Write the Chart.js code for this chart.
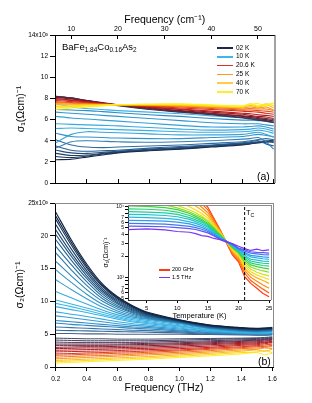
<!DOCTYPE html>
<html>
<head>
<meta charset="utf-8">
<script src="https://cdn.jsdelivr.net/npm/chart.js@4.4.0/dist/chart.umd.min.js"></script>
<style>
  body { margin: 0; background: #fff; }
  #page { position: relative; width: 312px; height: 403px; overflow: hidden; font-family: "Liberation Sans", Arial, sans-serif; color: #000; }
  canvas { position: absolute; }
  .txt { position: absolute; white-space: nowrap; line-height: 1; }
  .sub { font-size: 0.68em; position: relative; top: 0.3em; }
  .swatch { position: absolute; height: 1.5px; }
</style>
</head>
<body>
<div id="page">
  <canvas id="chartA" width="312" height="195" style="left:0;top:0;width:312px;height:195px"></canvas>
  <canvas id="chartB" width="312" height="208" style="left:0;top:195px;width:312px;height:208px"></canvas>
  <canvas id="chartC" width="182" height="124" style="left:92px;top:199px;width:182px;height:124px"></canvas>

  <div class="txt" style="left:62px;top:42px;font-size:9.5px">BaFe<span class="sub">1.84</span>Co<span class="sub">0.16</span>As<span class="sub">2</span></div>
  <div id="legendA"></div>
  <div class="txt" style="left:257px;top:171px;font-size:10.5px">(a)</div>
  <div class="txt" style="left:258px;top:356px;font-size:10.5px">(b)</div>
  <div id="legendC"></div>
  <div class="txt" style="left:246px;top:209px;font-size:7.5px">T<span class="sub">C</span></div>
</div>
<script>
// ---- data ----------------------------------------------------------
const cmPerTHz = 33.356;
const thzTicks = [0.2, 0.4, 0.6, 0.8, 1.0, 1.2, 1.4, 1.6];
const cmTicks = [10, 20, 30, 40, 50];
const sigma1Ticks = [0, 2, 4, 6, 8, 10, 12, 14];
const sigma2Ticks = [0, 5, 10, 15, 20, 25];
const tempTicks = [5, 10, 15, 20, 25];
const insetLogTicks = [500, 600, 700, 800, 900, 1000, 2000, 3000, 4000, 5000, 6000, 7000, 8000, 9000, 10000];

const legendTemps = ['02 K', '10 K', '20.6 K', '25 K', '40 K', '70 K'];
const legendFreqs = ['200 GHz', '1.5 THz'];
const tcKelvin = 21;

// (a) sigma1 vs frequency (THz), in 10^3 (Ohm cm)^-1
const freqA = [0.2, 0.3, 0.4, 0.5, 0.6, 0.8, 1.0, 1.2, 1.4, 1.45, 1.5, 1.55, 1.6];
const sigma1Cold = [
  [2.2, 2.25, 2.45, 2.65, 2.85, 3.05, 3.2, 3.4, 3.6, 3.7, 3.8, 3.85, 3.9],
  [2.5, 2.4, 2.55, 2.75, 2.9, 3.1, 3.25, 3.45, 3.65, 3.75, 3.85, 3.95, 4.0],
  [2.8, 2.6, 2.65, 2.8, 2.95, 3.15, 3.3, 3.5, 3.7, 3.8, 3.85, 3.9, 4.1],
  [3.1, 2.85, 2.8, 2.9, 3.0, 3.2, 3.35, 3.55, 3.75, 3.8, 3.9, 4.0, 3.8],
  [3.5, 3.1, 3.0, 3.05, 3.1, 3.3, 3.45, 3.6, 3.8, 3.9, 4.0, 3.7, 3.5],
  [4.1, 3.6, 3.4, 3.35, 3.4, 3.5, 3.6, 3.75, 3.9, 4.0, 4.1, 4.2, 4.1],
  [3.3, 3.9, 4.0, 3.95, 3.9, 3.85, 3.9, 4.0, 4.15, 4.2, 4.3, 3.9, 3.2],
  [4.7, 4.4, 4.35, 4.3, 4.25, 4.2, 4.2, 4.3, 4.4, 4.5, 4.6, 4.5, 4.4],
  [3.8, 4.6, 4.85, 4.8, 4.75, 4.65, 4.55, 4.55, 4.6, 4.7, 4.8, 4.6, 4.3],
  [5.15, 5.2, 5.15, 5.1, 5.05, 4.95, 4.85, 4.8, 4.85, 4.9, 5.0, 4.9, 4.7],
  [5.6, 5.55, 5.5, 5.45, 5.4, 5.25, 5.1, 5.0, 5.05, 5.1, 5.2, 5.1, 4.9],
  [6.3, 6.15, 6.05, 5.95, 5.85, 5.65, 5.45, 5.3, 5.3, 5.35, 5.4, 5.3, 5.1],
  [6.7, 6.6, 6.5, 6.4, 6.3, 6.1, 5.9, 5.7, 5.6, 5.6, 5.6, 5.5, 5.4],
  [6.95, 6.9, 6.85, 6.75, 6.65, 6.45, 6.3, 6.1, 5.95, 5.95, 5.9, 5.85, 5.7],
  [7.5, 7.2, 7.05, 6.95, 6.85, 6.7, 6.55, 6.35, 6.2, 6.15, 6.1, 6.0, 5.9]
];
const sigma1Warm = [
  [8.2, 8.05, 7.8, 7.55, 7.3, 6.95, 6.7, 6.45, 6.15, 6.05, 5.95, 5.85, 5.7],
  [8.2, 8.05, 7.8, 7.55, 7.35, 7.0, 6.75, 6.5, 6.2, 6.1, 6.0, 5.9, 5.75],
  [8.15, 8.0, 7.8, 7.6, 7.4, 7.05, 6.8, 6.55, 6.3, 6.2, 6.1, 6.0, 5.85],
  [8.1, 7.95, 7.75, 7.55, 7.4, 7.1, 6.85, 6.6, 6.35, 6.3, 6.2, 6.1, 6.0],
  [8.0, 7.85, 7.7, 7.55, 7.4, 7.15, 6.95, 6.7, 6.5, 6.4, 6.3, 6.25, 6.1],
  [7.9, 7.8, 7.65, 7.5, 7.4, 7.2, 7.0, 6.8, 6.6, 6.55, 6.45, 6.4, 6.3],
  [7.8, 7.7, 7.6, 7.5, 7.4, 7.25, 7.1, 6.95, 6.8, 6.75, 6.7, 6.6, 6.5],
  [7.7, 7.6, 7.55, 7.45, 7.4, 7.3, 7.2, 7.05, 6.9, 6.9, 6.85, 6.8, 6.7],
  [7.6, 7.55, 7.5, 7.45, 7.4, 7.35, 7.25, 7.15, 7.0, 7.05, 7.0, 7.0, 6.85],
  [7.5, 7.45, 7.45, 7.4, 7.4, 7.35, 7.3, 7.2, 7.1, 7.2, 7.1, 7.2, 6.9],
  [7.4, 7.4, 7.4, 7.4, 7.4, 7.4, 7.35, 7.25, 7.15, 7.35, 7.15, 7.4, 7.1],
  [7.25, 7.3, 7.35, 7.4, 7.4, 7.4, 7.4, 7.3, 7.2, 7.45, 7.25, 7.5, 7.3],
  [7.1, 7.2, 7.3, 7.35, 7.4, 7.45, 7.45, 7.35, 7.25, 7.5, 7.3, 7.45, 7.5],
  [6.95, 7.1, 7.2, 7.3, 7.4, 7.45, 7.5, 7.4, 7.3, 7.45, 7.5, 7.3, 7.6]
];

// (b) sigma2 vs frequency (THz), in 10^3 (Ohm cm)^-1
const freqB = [0.2, 0.3, 0.4, 0.5, 0.6, 0.7, 0.8, 1.0, 1.2, 1.4, 1.5, 1.55, 1.6];
const sigma2Cold = [
  [23.6, 19.4, 15.7, 12.7, 10.7, 9.3, 8.3, 7.2, 6.4, 6.0, 5.9, 5.95, 6.0],
  [23.0, 19.0, 15.4, 12.5, 10.55, 9.2, 8.2, 7.15, 6.35, 5.95, 5.85, 5.9, 5.95],
  [22.5, 18.6, 15.1, 12.3, 10.4, 9.1, 8.15, 7.1, 6.3, 5.9, 5.8, 5.85, 5.9],
  [21.7, 18.0, 14.7, 12.0, 10.2, 8.95, 8.05, 7.05, 6.25, 5.85, 5.75, 5.8, 5.85],
  [20.9, 17.4, 14.3, 11.7, 10.0, 8.8, 7.95, 7.0, 6.2, 5.8, 5.7, 5.75, 5.8],
  [20.2, 16.9, 13.9, 11.45, 9.8, 8.65, 7.85, 6.95, 6.15, 5.75, 5.65, 5.7, 5.75],
  [19.4, 16.3, 13.5, 11.15, 9.6, 8.5, 7.75, 6.9, 6.1, 5.7, 5.6, 5.65, 5.7],
  [18.4, 15.6, 13.0, 10.8, 9.35, 8.35, 7.65, 6.85, 6.05, 5.65, 5.55, 5.6, 5.65],
  [17.4, 14.8, 12.45, 10.45, 9.1, 8.2, 7.55, 6.8, 6.0, 5.6, 5.5, 5.55, 5.6],
  [16.1, 13.9, 11.8, 10.05, 8.85, 8.0, 7.45, 6.75, 5.95, 5.55, 5.45, 5.5, 5.55],
  [14.8, 12.9, 11.1, 9.6, 8.55, 7.8, 7.35, 6.7, 5.9, 5.5, 5.4, 5.45, 5.5],
  [13.3, 11.8, 10.4, 9.15, 8.25, 7.6, 7.25, 6.6, 5.85, 5.45, 5.35, 5.4, 5.45],
  [11.5, 10.55, 9.6, 8.7, 7.95, 7.4, 7.1, 6.45, 5.8, 5.4, 5.35, 5.6, 6.1],
  [10.2, 9.6, 9.0, 8.35, 7.7, 7.2, 6.9, 6.3, 5.7, 5.35, 5.3, 5.3, 5.35],
  [9.7, 9.2, 8.65, 8.05, 7.5, 7.0, 6.75, 6.2, 5.65, 5.3, 5.25, 5.25, 5.3],
  [9.2, 8.75, 8.3, 7.8, 7.3, 6.85, 6.6, 6.1, 5.6, 5.25, 5.2, 5.2, 5.25],
  [8.4, 8.05, 7.7, 7.3, 6.9, 6.6, 6.4, 5.95, 5.5, 5.2, 5.15, 5.15, 5.2],
  [7.8, 7.5, 7.2, 6.9, 6.6, 6.35, 6.2, 5.8, 5.4, 5.15, 5.1, 5.1, 5.15],
  [7.1, 6.9, 6.7, 6.5, 6.3, 6.1, 6.0, 5.65, 5.3, 5.1, 5.05, 5.05, 5.1],
  [6.7, 6.5, 6.35, 6.2, 6.05, 5.9, 5.8, 5.5, 5.2, 5.05, 5.0, 5.0, 5.05],
  [6.1, 6.0, 5.9, 5.8, 5.7, 5.6, 5.55, 5.35, 5.1, 5.0, 4.95, 4.95, 5.0],
  [5.6, 5.55, 5.5, 5.45, 5.4, 5.35, 5.3, 5.2, 5.0, 4.95, 4.9, 4.9, 4.95],
  [5.1, 5.1, 5.05, 5.05, 5.0, 5.0, 5.0, 5.0, 4.95, 4.9, 4.85, 4.85, 4.9]
];
const sigma2Warm = [
  [4.4, 4.35, 4.3, 4.3, 4.25, 4.25, 4.25, 4.3, 4.35, 4.4, 4.45, 4.5, 4.6],
  [4.1, 4.05, 4.0, 4.0, 4.0, 4.0, 4.0, 4.1, 4.2, 4.3, 4.35, 4.4, 4.5],
  [3.8, 3.75, 3.75, 3.75, 3.75, 3.75, 3.8, 3.9, 4.0, 4.15, 4.2, 4.3, 4.4],
  [3.5, 3.5, 3.5, 3.5, 3.5, 3.55, 3.6, 3.7, 3.85, 4.0, 4.1, 4.2, 4.3],
  [3.3, 3.3, 3.3, 3.3, 3.35, 3.4, 3.45, 3.55, 3.7, 3.9, 4.0, 4.1, 4.2],
  [3.0, 3.05, 3.1, 3.1, 3.15, 3.2, 3.25, 3.4, 3.55, 3.75, 3.85, 3.95, 4.1],
  [2.8, 2.85, 2.9, 2.9, 2.95, 3.0, 3.05, 3.2, 3.4, 3.6, 3.7, 3.8, 3.9],
  [2.55, 2.6, 2.65, 2.7, 2.75, 2.8, 2.85, 3.0, 3.2, 3.45, 3.55, 3.7, 3.8],
  [2.3, 2.35, 2.4, 2.45, 2.5, 2.6, 2.65, 2.8, 3.0, 3.3, 3.4, 3.55, 3.7],
  [2.0, 2.05, 2.15, 2.2, 2.3, 2.35, 2.45, 2.6, 2.85, 3.1, 3.25, 3.35, 3.5],
  [1.8, 1.85, 1.95, 2.0, 2.1, 2.15, 2.25, 2.45, 2.7, 2.95, 3.1, 3.15, 3.3],
  [1.5, 1.6, 1.7, 1.75, 1.85, 1.95, 2.05, 2.25, 2.5, 2.8, 2.9, 3.0, 3.1],
  [1.25, 1.35, 1.45, 1.55, 1.65, 1.75, 1.85, 2.05, 2.3, 2.6, 2.7, 2.9, 2.8],
  [1.0, 1.1, 1.2, 1.3, 1.4, 1.5, 1.6, 1.85, 2.1, 2.4, 2.6, 2.4, 2.7],
  [0.8, 0.9, 1.0, 1.1, 1.2, 1.3, 1.4, 1.65, 1.9, 2.2, 2.3, 2.5, 2.2],
  [0.6, 0.7, 0.8, 0.9, 1.0, 1.1, 1.2, 1.45, 1.7, 2.0, 2.2, 1.9, 2.1]
];

// inset: sigma1 vs temperature, 200 GHz (first) ... 1.5 THz (last)
const tempK = [2, 5, 8, 10, 12, 13, 14, 15, 16, 17, 18, 19, 20, 21, 22, 23, 24, 25];
const sigma1VsT = [
  [30000, 28000, 25000, 22000, 18000, 15000, 12500, 9800, 6800, 4700, 3100, 2070, 1660, 1020, 820, 700, 590, 530],
  [26000, 24000, 21000, 18500, 15000, 13000, 11000, 9000, 6500, 4600, 3150, 2150, 1750, 1150, 900, 780, 680, 600],
  [22000, 20500, 18500, 16000, 13500, 11500, 9800, 8200, 6100, 4500, 3200, 2250, 1850, 1250, 1000, 880, 780, 700],
  [19000, 18000, 16000, 14000, 11500, 10200, 8900, 7500, 5800, 4400, 3200, 2350, 1950, 1350, 1100, 980, 900, 820],
  [16500, 15500, 13800, 12000, 10000, 9000, 8000, 6900, 5500, 4300, 3250, 2450, 2050, 1450, 1200, 1080, 1000, 930],
  [14000, 13500, 12000, 10400, 9000, 8200, 7400, 6400, 5200, 4150, 3250, 2550, 2150, 1550, 1300, 1180, 1100, 1050],
  [12500, 12000, 10600, 9600, 8400, 7700, 7000, 6100, 5000, 4050, 3250, 2600, 2200, 1650, 1400, 1300, 1230, 1180],
  [10300, 10100, 9700, 9100, 8000, 7300, 6600, 5800, 4800, 3950, 3250, 2650, 2250, 1750, 1500, 1420, 1360, 1320],
  [9300, 9200, 8900, 8400, 7500, 6900, 6300, 5550, 4650, 3850, 3250, 2700, 2300, 1850, 1600, 1520, 1470, 1440],
  [8500, 8400, 8200, 7800, 7000, 6500, 6000, 5300, 4500, 3750, 3250, 2750, 2350, 1950, 1700, 1630, 1580, 1560],
  [7800, 7700, 7500, 7200, 6600, 6150, 5700, 5100, 4350, 3700, 3250, 2800, 2400, 2050, 1800, 1750, 1700, 1680],
  [7100, 7000, 6850, 6600, 6100, 5800, 5400, 4850, 4200, 3600, 3250, 2850, 2450, 2150, 1950, 1880, 1830, 1800],
  [6400, 6350, 6250, 6050, 5700, 5400, 5100, 4650, 4100, 3550, 3250, 2900, 2500, 2250, 2050, 2000, 1950, 1920],
  [5800, 5750, 5650, 5500, 5250, 5050, 4800, 4450, 3950, 3500, 3250, 2900, 2550, 2350, 2200, 2150, 2100, 2080],
  [5300, 5250, 5200, 5050, 4900, 4750, 4500, 4250, 3850, 3450, 3250, 2950, 2600, 2450, 2300, 2250, 2230, 2200],
  [4750, 4850, 4700, 4450, 4350, 4150, 3900, 3800, 3550, 3400, 3150, 3000, 2750, 2550, 2400, 2500, 2380, 2450]
];

// ---- colours --------------------------------------------------------
const coldColorsA = ['#15284a', '#1a3356', '#1f3f66', '#244d7a', '#285c8e', '#2c6ca2', '#3080bb', '#3392cc',
  '#37a4dc', '#3aafe4', '#38a9e0', '#35a0d9', '#3197d1', '#2d8cc6', '#3ab2e6'];
const warmColorsA = ['#2e3656', '#46304e', '#5e2238', '#7a1a28', '#9c1a22', '#bd1c1c', '#d92a18',
  '#ea4c16', '#f47418', '#f99a1c', '#fcba20', '#fed41e', '#ffe81c', '#fff21a'];
const coldColorsB = ['#0e223e', '#12294a', '#163356', '#1a3e64', '#1e4a73', '#215682', '#246290', '#276e9e',
  '#2a7aab', '#2d86b8', '#3192c5', '#349fd2', '#37abde', '#39b4e6', '#3ab8ea', '#38b2e5', '#36a8de',
  '#339cd4', '#3190c9', '#3184bc', '#3477ad', '#3a6a98', '#45638a'];
const warmColorsB = ['#3c4866', '#453d60', '#523552', '#602a44', '#722238', '#861c2e', '#9c1a26', '#b21b1f',
  '#c8201a', '#da3418', '#e85216', '#f07418', '#f6961a', '#fab81c', '#fdd61c', '#ffee1a'];
const insetColors = ['#ff3c10', '#ff6010', '#ff8a10', '#ffb010', '#ffd414', '#c8e41c', '#8ada24', '#3cd43c',
  '#2ad070', '#20cca0', '#20c4c8', '#28b4e4', '#3298f0', '#4078f4', '#5a5af4', '#7a34f8'];
const legendColorsA = ['#1c2a4a', '#3ab8ea', '#e0302a', '#ff9a1a', '#ffcc44', '#ffee22'];

// ---- helpers --------------------------------------------------------
const FAMILY = '"Liberation Sans", Arial, sans-serif';

function lineSet(xs, ys, color, width, tension) {
  return {
    data: ys.map((y, i) => ({ x: xs[i], y: y })),
    borderColor: color,
    borderWidth: width,
    pointRadius: 0,
    tension: tension,
    fill: false
  };
}

// draw order: later entries end up on top
function stackOrder(sets) {
  sets.forEach((s, i) => { s.order = sets.length - i; });
  return sets;
}

const frameLines = {
  id: 'frameLines',
  beforeDraw(chart, args, opts) {
    if (!opts.fill) return;
    const a = chart.chartArea;
    chart.ctx.save();
    chart.ctx.fillStyle = opts.fill;
    chart.ctx.fillRect(a.left, a.top, a.right - a.left, a.bottom - a.top);
    chart.ctx.restore();
  },
  afterDraw(chart, args, opts) {
    const ctx = chart.ctx, a = chart.chartArea;
    ctx.save();
    ctx.strokeStyle = opts.color || '#000';
    ctx.lineWidth = 1;
    ctx.beginPath();
    if (opts.top) { ctx.moveTo(a.left, a.top + 0.5); ctx.lineTo(a.right + 1, a.top + 0.5); }
    if (opts.right) { ctx.moveTo(a.right + 0.5, a.top); ctx.lineTo(a.right + 0.5, a.bottom); }
    ctx.stroke();
    ctx.restore();
  }
};

function fixedTicks(list) {
  return s => { s.ticks = list.map(v => ({ value: v })); };
}

const baseOptions = {
  responsive: false,
  animation: false,
  events: [],
  devicePixelRatio: 1
};

// ---- (a) ------------------------------------------------------------
const setsA = [];
sigma1Cold.forEach((ys, i) => setsA.push(lineSet(freqA, ys, coldColorsA[i], 1.1, 0.3)));
sigma1Warm.forEach((ys, i) => setsA.push(lineSet(freqA, ys, warmColorsA[i], 1.1, 0.3)));

new Chart(document.getElementById('chartA'), {
  type: 'line',
  data: { datasets: stackOrder(setsA) },
  plugins: [frameLines],
  options: Object.assign({}, baseOptions, {
    layout: { padding: { left: 0, right: 37.5, top: 0, bottom: 0 } },
    plugins: { legend: { display: false }, tooltip: { enabled: false }, frameLines: { right: true, color: '#444' } },
    scales: {
      x: {
        type: 'linear', position: 'bottom', min: 0.195, max: 1.605,
        afterBuildTicks: fixedTicks(thzTicks),
        afterFit: s => { s.height = 12; },
        ticks: { display: false },
        grid: { drawOnChartArea: false, color: '#000', tickLength: -4 },
        border: { color: '#000' }
      },
      xTop: {
        axis: 'x', type: 'linear', position: 'top', min: 0.195 * cmPerTHz, max: 1.605 * cmPerTHz,
        afterBuildTicks: fixedTicks(cmTicks),
        afterFit: s => { s.height = 35; },
        ticks: { font: { family: FAMILY, size: 7 }, color: '#000', padding: 6, maxRotation: 0 },
        grid: { drawOnChartArea: false, color: '#000', tickLength: -4 },
        border: { color: '#000' },
        title: { display: true, text: 'Frequency (cm⁻¹)', font: { family: FAMILY, size: 10.5 }, color: '#000', padding: { top: 13.5, bottom: 0 } }
      },
      y: {
        type: 'linear', position: 'left', min: 0, max: 14,
        afterBuildTicks: fixedTicks(sigma1Ticks),
        afterFit: s => { s.width = 55; },
        ticks: { font: { family: FAMILY, size: 6.5 }, color: '#000', padding: 2,
          callback: v => v === 14 ? '14x10³' : String(v) },
        grid: { drawOnChartArea: false, color: '#000', tickLength: 5 },
        border: { color: '#000' },
        title: { display: true, text: 'σ₁(Ωcm)⁻¹', font: { family: FAMILY, size: 10.5 }, color: '#000', padding: { top: 15, bottom: 0 } }
      }
    }
  })
});

// ---- (b) ------------------------------------------------------------
const setsB = [];
sigma2Warm.slice().reverse().forEach((ys, i, arr) => setsB.push(lineSet(freqB, ys, warmColorsB[arr.length - 1 - i], 1, 0.3)));
sigma2Cold.slice().reverse().forEach((ys, i, arr) => setsB.push(lineSet(freqB, ys, coldColorsB[arr.length - 1 - i], 1.1, 0.3)));

new Chart(document.getElementById('chartB'), {
  type: 'line',
  data: { datasets: stackOrder(setsB) },
  plugins: [frameLines],
  options: Object.assign({}, baseOptions, {
    layout: { padding: { left: 0, right: 39, top: 8, bottom: 0 } },
    plugins: { legend: { display: false }, tooltip: { enabled: false }, frameLines: { right: true, top: true, color: '#8a8a8a' } },
    scales: {
      x: {
        type: 'linear', position: 'bottom', min: 0.195, max: 1.605,
        afterBuildTicks: fixedTicks(thzTicks),
        afterFit: s => { s.height = 36; },
        ticks: { font: { family: FAMILY, size: 6.5 }, color: '#000', padding: 4, maxRotation: 0,
          callback: v => v.toFixed(1) },
        grid: { drawOnChartArea: false, color: '#000', tickLength: 4 },
        border: { color: '#000' },
        title: { display: true, text: 'Frequency (THz)', font: { family: FAMILY, size: 10.5 }, color: '#000', padding: { top: 0, bottom: 9 } }
      },
      y: {
        type: 'linear', position: 'left', min: 0, max: 25,
        afterBuildTicks: fixedTicks(sigma2Ticks),
        afterFit: s => { s.width = 55; },
        ticks: { font: { family: FAMILY, size: 6.5 }, color: '#000', padding: 2,
          callback: v => v === 25 ? '25x10³' : String(v) },
        grid: { drawOnChartArea: false, color: '#000', tickLength: 5 },
        border: { color: '#000' },
        title: { display: true, text: 'σ₂(Ωcm)⁻¹', font: { family: FAMILY, size: 10.5 }, color: '#000', padding: { top: 14, bottom: 0 } }
      }
    }
  })
});

// ---- inset ----------------------------------------------------------
const insetMin = 477, insetMax = 10570;
const setsC = sigma1VsT.map((ys, i) => lineSet(tempK, ys, insetColors[i], 1.2, 0));
const tcLine = lineSet([tcKelvin, tcKelvin], [insetMin, insetMax], '#000', 1, 0);
tcLine.borderDash = [3, 2];
setsC.push(tcLine);

new Chart(document.getElementById('chartC'), {
  type: 'line',
  data: { datasets: stackOrder(setsC) },
  plugins: [frameLines],
  options: Object.assign({}, baseOptions, {
    layout: { padding: { left: 0, right: 3, top: 6, bottom: 0 } },
    plugins: { legend: { display: false }, tooltip: { enabled: false }, frameLines: { right: true, top: true, color: '#8a8a8a', fill: '#fff' } },
    scales: {
      x: {
        type: 'linear', position: 'bottom', min: 1.95, max: 25.3,
        afterBuildTicks: fixedTicks(tempTicks),
        afterFit: s => { s.height = 23; },
        ticks: { font: { family: FAMILY, size: 6 }, color: '#000', padding: 1.5, maxRotation: 0 },
        grid: { drawOnChartArea: false, color: '#000', tickLength: 3 },
        border: { color: '#333' },
        title: { display: true, text: 'Temperature (K)', font: { family: FAMILY, size: 7.5 }, color: '#000', padding: { top: 0, bottom: 3 } }
      },
      y: {
        type: 'logarithmic', position: 'left', min: insetMin, max: insetMax,
        afterBuildTicks: fixedTicks(insetLogTicks),
        afterFit: s => { s.width = 36; },
        ticks: { font: { family: FAMILY, size: 5 }, color: '#000', padding: 1, autoSkip: false,
          callback: v => {
            if (v === 10000) return '10⁴';
            if (v === 1000) return '10³';
            const m = Math.round(v / Math.pow(10, Math.floor(Math.log10(v))));
            return m >= 2 && m <= 7 ? String(m) : '';
          } },
        grid: { drawOnChartArea: false, color: '#000', tickLength: 3 },
        border: { color: '#333' },
        title: { display: true, text: 'σ₁(Ωcm)⁻¹', font: { family: FAMILY, size: 7 }, color: '#000', padding: { top: 10, bottom: 0 } }
      }
    }
  })
});

// ---- legends --------------------------------------------------------
const legendA = document.getElementById('legendA');
legendTemps.forEach((t, i) => {
  const y = 48 + i * 8.8;
  legendA.insertAdjacentHTML('beforeend',
    `<div class="swatch" style="left:217px;top:${y - 0.75}px;width:16px;background:${legendColorsA[i]}"></div>` +
    `<div class="txt" style="left:236px;top:${y - 3.5}px;font-size:6.5px">${t}</div>`);
});

const legendC = document.getElementById('legendC');
const legendColorsC = [insetColors[0], insetColors[insetColors.length - 1]];
legendFreqs.forEach((f, i) => {
  const y = 270 + i * 7.7;
  legendC.insertAdjacentHTML('beforeend',
    `<div class="swatch" style="left:159px;top:${y - 0.75}px;width:11px;background:${legendColorsC[i]}"></div>` +
    `<div class="txt" style="left:172px;top:${y - 3}px;font-size:5.5px">${f}</div>`);
});
</script>
</body>
</html>
